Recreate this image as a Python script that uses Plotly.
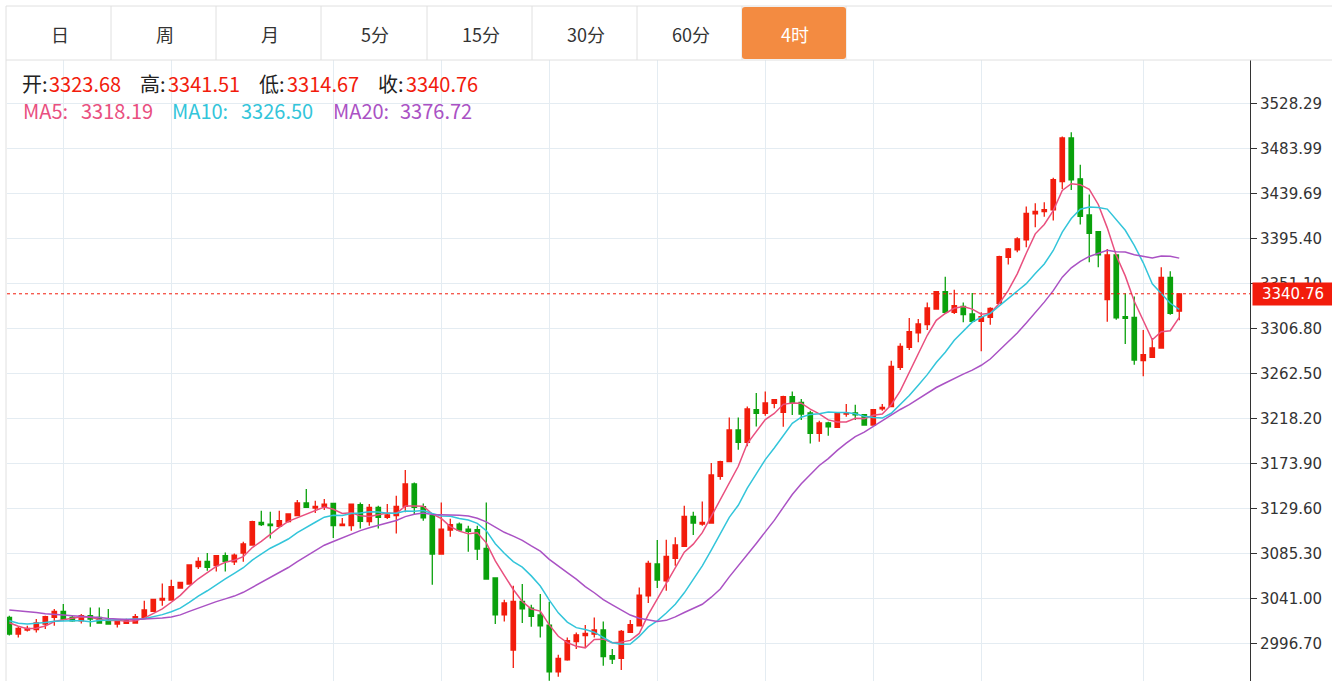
import plotly.graph_objects as go
import pandas as pd

# ---------------- data ----------------
open_ = [3022.2, 3005.8, 3009.8, 3010.1, 3015.7, 3022.2, 3028.1, 3022.2, 3018.9, 3023.9,
         3022.2, 3019.6, 3015.7, 3016.3, 3016.7, 3022.2, 3028.1, 3039.3, 3039.3, 3051.1,
         3055.1, 3072.1, 3077.3, 3073.1, 3082.9, 3077.0, 3085.6, 3093.5, 3115.7, 3114.1,
         3111.8, 3116.4, 3122.3, 3134.8, 3129.9, 3131.5, 3134.4, 3112.5, 3112.5, 3133.2,
         3116.4, 3130.5, 3120.6, 3122.3, 3131.5, 3153.5, 3131.2, 3122.3, 3084.6, 3108.2,
         3114.1, 3109.2, 3108.5, 3090.1, 3061.0, 3024.6, 2990.1, 3037.9, 3031.4, 3024.6,
         3014.7, 2968.7, 2980.5, 2998.3, 3004.2, 3005.8, 3009.8, 2984.5, 2981.8, 3007.4,
         3014.0, 3043.5, 3074.8, 3058.3, 3080.3, 3092.1, 3121.6, 3114.1, 3115.1, 3161.0,
         3175.5, 3206.7, 3194.5, 3226.7, 3223.0, 3232.9, 3224.0, 3239.5, 3233.9, 3223.4,
         3203.4, 3213.6, 3209.3, 3222.4, 3223.4, 3221.8, 3211.6, 3227.4, 3229.7, 3268.3,
         3288.0, 3302.2, 3310.4, 3325.8, 3342.9, 3322.5, 3328.4, 3320.9, 3313.6, 3317.6,
         3331.4, 3376.6, 3383.9, 3393.8, 3419.4, 3421.6, 3423.3, 3451.2, 3494.2, 3453.9,
         3418.4, 3402.0, 3335.0, 3379.0, 3318.3, 3317.6, 3274.9, 3278.2, 3287.4, 3357.0,
         3323.68]
high = [3023.9, 3013.0, 3014.0, 3020.6, 3023.9, 3030.5, 3035.4, 3023.9, 3025.5, 3032.0,
        3032.0, 3030.5, 3020.6, 3020.9, 3025.5, 3038.6, 3040.6, 3055.7, 3059.3, 3057.3,
        3073.8, 3081.3, 3085.6, 3082.9, 3086.2, 3085.2, 3096.7, 3117.4, 3127.2, 3126.3,
        3127.2, 3124.6, 3137.8, 3148.6, 3137.1, 3138.8, 3134.4, 3120.1, 3134.4, 3135.4,
        3133.8, 3132.2, 3133.8, 3142.0, 3167.3, 3155.1, 3134.4, 3122.3, 3135.4, 3119.4,
        3115.7, 3112.5, 3112.5, 3135.4, 3061.0, 3039.6, 3053.4, 3055.1, 3034.7, 3045.2,
        3037.6, 2985.4, 3002.5, 3007.4, 3014.7, 3022.2, 3018.2, 2991.1, 3009.8, 3019.6,
        3051.7, 3078.0, 3098.4, 3098.7, 3101.0, 3132.2, 3126.3, 3136.4, 3174.2, 3176.5,
        3219.1, 3219.1, 3229.7, 3243.1, 3244.7, 3237.2, 3240.5, 3244.7, 3237.2, 3225.7,
        3215.9, 3214.9, 3224.0, 3232.3, 3231.6, 3222.4, 3227.4, 3232.3, 3274.9, 3292.0,
        3317.0, 3316.0, 3332.3, 3342.9, 3357.6, 3344.8, 3332.3, 3341.6, 3322.5, 3327.4,
        3378.3, 3385.9, 3396.3, 3426.6, 3429.8, 3430.8, 3454.9, 3495.5, 3499.7, 3467.9,
        3438.4, 3402.0, 3384.9, 3379.0, 3341.2, 3338.2, 3305.2, 3297.3, 3366.8, 3362.9,
        3341.51]
low = [3004.5, 3002.5, 3008.4, 3007.4, 3010.8, 3014.0, 3018.9, 3017.9, 3016.3, 3013.0,
       3016.0, 3015.7, 3012.3, 3015.7, 3016.7, 3022.2, 3028.1, 3033.7, 3039.3, 3050.7,
       3054.4, 3069.8, 3068.2, 3067.5, 3067.5, 3073.8, 3077.0, 3092.8, 3112.2, 3099.9,
       3111.8, 3115.7, 3122.3, 3130.5, 3125.0, 3127.9, 3100.4, 3112.5, 3107.6, 3109.8,
       3112.5, 3109.8, 3119.1, 3104.9, 3125.6, 3124.0, 3117.4, 3054.4, 3084.6, 3101.6,
       3107.6, 3086.9, 3078.7, 3059.3, 3015.7, 3018.2, 2972.4, 3016.7, 3013.0, 3002.5,
       2959.8, 2963.8, 2979.5, 2991.1, 2992.6, 3002.5, 2974.6, 2976.3, 2970.4, 3006.8,
       3014.0, 3036.4, 3051.1, 3048.5, 3073.1, 3092.1, 3103.3, 3112.5, 3115.1, 3157.8,
       3175.5, 3187.3, 3190.6, 3210.2, 3220.8, 3228.0, 3209.9, 3221.5, 3216.5, 3193.5,
       3195.2, 3201.1, 3209.3, 3219.8, 3216.5, 3211.6, 3211.6, 3225.7, 3229.7, 3265.8,
       3285.5, 3293.0, 3305.2, 3325.8, 3320.9, 3320.9, 3312.7, 3312.7, 3284.1, 3310.4,
       3331.4, 3369.5, 3381.6, 3386.5, 3406.2, 3416.7, 3412.8, 3444.0, 3443.0, 3408.9,
       3371.7, 3366.8, 3313.3, 3315.3, 3291.4, 3271.0, 3259.5, 3277.6, 3287.4, 3320.2,
       3314.67]
close = [3005.8, 3011.4, 3011.4, 3016.7, 3022.9, 3028.1, 3020.6, 3018.9, 3023.9, 3020.6,
         3016.7, 3015.7, 3019.6, 3019.6, 3022.9, 3029.5, 3039.9, 3040.9, 3052.4, 3056.6,
         3073.8, 3077.3, 3071.4, 3082.9, 3077.3, 3083.6, 3094.5, 3116.4, 3113.5, 3112.5,
         3117.4, 3124.0, 3134.8, 3130.5, 3131.5, 3133.8, 3112.5, 3114.1, 3133.8, 3116.7,
         3130.5, 3120.6, 3123.0, 3131.5, 3153.5, 3130.5, 3120.1, 3084.6, 3109.2, 3113.5,
         3108.2, 3106.9, 3089.5, 3060.0, 3024.6, 3036.4, 3037.9, 3030.5, 3023.2, 3014.0,
         2968.7, 2981.8, 2999.2, 3005.1, 3006.4, 3009.8, 2983.5, 2981.2, 3008.4, 3015.0,
         3044.2, 3075.4, 3059.0, 3082.2, 3093.5, 3121.6, 3115.1, 3115.7, 3162.4, 3175.5,
         3206.7, 3194.5, 3227.4, 3223.0, 3233.3, 3236.5, 3239.5, 3233.9, 3222.4, 3203.4,
         3213.6, 3209.9, 3223.0, 3223.4, 3221.5, 3211.6, 3226.7, 3229.0, 3269.3, 3289.0,
         3303.5, 3311.1, 3326.8, 3342.9, 3322.5, 3329.1, 3320.2, 3313.6, 3318.3, 3326.4,
         3377.3, 3384.9, 3394.8, 3420.0, 3421.9, 3423.6, 3453.0, 3494.2, 3453.0, 3417.0,
         3400.3, 3379.0, 3379.0, 3317.0, 3316.6, 3275.6, 3280.8, 3287.4, 3357.0, 3321.5,
         3340.76]
bar_index = list(range(1, len(close) + 1))

# moving-average values at the left edge (history before the visible window)
ma5_head = [3017.0, 3013.5, 3011.0, 3011.5]
ma10_head = [3019.0, 3016.5, 3015.7, 3016.3, 3017.3, 3018.3, 3018.9, 3019.0, 3018.8]
ma20_head = [3029.5, 3028.8, 3028.1, 3027.1, 3025.8, 3024.8, 3024.5, 3023.9, 3023.5, 3022.9,
             3022.2, 3021.2, 3020.6, 3020.2, 3020.2, 3020.6, 3021.2, 3021.6, 3022.6]

grid_bar_positions = [7, 19, 37, 49, 61, 73, 85, 97, 109, 127]
y_tick_labels = ["2996.70", "3041.00", "3085.30", "3129.60", "3173.90", "3218.20", "3262.50",
                 "3306.80", "3351.10", "3395.40", "3439.69", "3483.99", "3528.29"]
ohlc_names = ["开", "高", "低", "收"]
ma_names = ["MA5", "MA10", "MA20"]
ma_legend_values = [3318.19, 3326.50, 3376.72]
period_buttons = ["日", "周", "月", "5分", "15分", "30分", "60分", "4时"]
active_button = "4时"

# ---------------- styling ----------------
RED = "#f21c0c"
GREEN = "#0aa10c"
MA_COLORS = ["#e9507f", "#33c5da", "#aa52c4"]
GRID = "#e4ecf2"
BORDER = "#e0e0e0"
ORANGE = "#f38b41"
CJK = "Noto Sans CJK SC"

W, H = 1332, 681
ML, MR, MT, MB = 7, 82, 60, 0
PW, PH = W - ML - MR, H - MT - MB


def pxx(x):
    return (x - ML) / PW


def pxy(y):
    return (H - MB - y) / PH


s = pd.Series(close)


def moving_average(n, head):
    vals = s.rolling(n).mean().tolist()
    vals[:n - 1] = head
    return vals


ma_series = [moving_average(5, ma5_head), moving_average(10, ma10_head), moving_average(20, ma20_head)]

fig = go.Figure()
fig.add_trace(go.Candlestick(
    x=bar_index, open=open_, high=high, low=low, close=close,
    increasing=dict(line=dict(color=RED, width=1.3), fillcolor=RED),
    decreasing=dict(line=dict(color=GREEN, width=1.3), fillcolor=GREEN),
    whiskerwidth=0, showlegend=False, hoverinfo="skip"))
for vals, col in zip(ma_series, MA_COLORS):
    fig.add_trace(go.Scatter(x=bar_index, y=vals, mode="lines",
                             line=dict(color=col, width=1.5), showlegend=False, hoverinfo="skip"))

shapes = []
# last price dotted line
shapes.append(dict(type="line", xref="paper", yref="y", x0=0, x1=1, y0=close[-1], y1=close[-1],
                   line=dict(color=RED, width=1, dash="3px,3px"), layer="above"))
# frame lines of the toolbar
for yy in (6, 60):
    shapes.append(dict(type="line", xref="paper", yref="paper", x0=pxx(6), x1=pxx(W), y0=pxy(yy), y1=pxy(yy),
                       line=dict(color=BORDER, width=1)))
shapes.append(dict(type="line", xref="paper", yref="paper", x0=pxx(6), x1=pxx(6), y0=pxy(6), y1=pxy(H),
                   line=dict(color=BORDER, width=1)))
btn_edges = [6, 111, 216, 321, 427, 532, 637, 742, 846]
for xx in btn_edges[1:]:
    shapes.append(dict(type="line", xref="paper", yref="paper", x0=pxx(xx), x1=pxx(xx), y0=pxy(6), y1=pxy(60),
                       line=dict(color=BORDER, width=1)))

annotations = []
for i, name in enumerate(period_buttons):
    x0, x1 = btn_edges[i], btn_edges[i + 1]
    active = name == active_button
    if active:
        r = 3
        a, b, c, d = x0, x1, 7, 59
        path = (f"M {pxx(a + r)},{pxy(c)} L {pxx(b - r)},{pxy(c)} Q {pxx(b)},{pxy(c)} {pxx(b)},{pxy(c + r)} "
                f"L {pxx(b)},{pxy(d - r)} Q {pxx(b)},{pxy(d)} {pxx(b - r)},{pxy(d)} "
                f"L {pxx(a + r)},{pxy(d)} Q {pxx(a)},{pxy(d)} {pxx(a)},{pxy(d - r)} "
                f"L {pxx(a)},{pxy(c + r)} Q {pxx(a)},{pxy(c)} {pxx(a + r)},{pxy(c)} Z")
        shapes.append(dict(type="path", xref="paper", yref="paper", path=path,
                           fillcolor=ORANGE, line=dict(width=0)))
    annotations.append(dict(xref="paper", yref="paper", x=pxx((x0 + x1) / 2 + 1), y=pxy(34),
                            text=name, showarrow=False, xanchor="center", yanchor="middle",
                            font=dict(family=CJK, size=18, color="#ffffff" if active else "#333333")))


def text_at(x, y, text, color, size=20):
    annotations.append(dict(xref="paper", yref="paper", x=pxx(x - 2), y=pxy(y), text=text,
                            showarrow=False, xanchor="left", yanchor="middle",
                            font=dict(family=CJK, size=size, color=color)))


ohlc_values = [open_[-1], high[-1], low[-1], close[-1]]
ohlc_label_x = [22, 140, 259, 378]
ohlc_value_x = [49, 168, 287, 406]
for name, val, lx, vx in zip(ohlc_names, ohlc_values, ohlc_label_x, ohlc_value_x):
    text_at(lx, 84, f"{name}:", "#222222")
    text_at(vx, 84, f"{val:.2f}", RED)

ma_label_x = [22.5, 172, 332.5]
ma_value_x = [81, 241, 400]
for name, val, col, lx, vx in zip(ma_names, ma_legend_values, MA_COLORS, ma_label_x, ma_value_x):
    text_at(lx, 110.5, f"{name}:", col)
    text_at(vx, 110.5, f"{val:.2f}", col)

# last price tag on the axis
annotations.append(dict(xref="paper", yref="y", x=pxx(1252), y=close[-1], text=f"{close[-1]:.2f}",
                        showarrow=False, xanchor="left", yanchor="middle", bgcolor=RED,
                        width=78, height=20, borderpad=1, align="center",
                        font=dict(family="DejaVu Sans", size=15, color="#ffffff")))

fig.update_layout(
    width=W, height=H, margin=dict(l=ML, r=MR, t=MT, b=MB, pad=0),
    paper_bgcolor="white", plot_bgcolor="white", boxgap=0.3,
    showlegend=False, shapes=shapes, annotations=annotations,
    xaxis=dict(range=[0.744, 138.86], tickvals=grid_bar_positions, showticklabels=False, ticks="",
               showgrid=True, gridcolor=GRID, gridwidth=1, zeroline=False, showline=False,
               rangeslider=dict(visible=False), fixedrange=True),
    yaxis=dict(side="right", range=[2959.6, 3570.9],
               tickvals=[float(t) for t in y_tick_labels], ticktext=y_tick_labels,
               ticks="outside", ticklen=6, tickcolor="#333333", showline=True, linecolor="#333333",
               linewidth=1, showgrid=True, gridcolor=GRID, gridwidth=1, zeroline=False,
               tickfont=dict(family="DejaVu Sans", size=15, color="#333333"), fixedrange=True),
)

fig.write_html("out.html", config={"displayModeBar": False},
               post_script="document.body.style.margin='0';document.body.style.overflow='hidden';")
